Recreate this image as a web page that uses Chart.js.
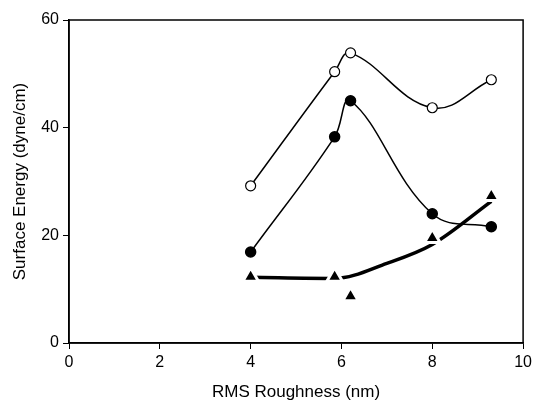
<!DOCTYPE html>
<html>
<head>
<meta charset="utf-8">
<script src="https://cdn.jsdelivr.net/npm/chart.js@4"></script>
<style>
  html, body { margin: 0; padding: 0; background: #fff; }
  #wrap { width: 536px; height: 403px; }
</style>
</head>
<body>
<div id="wrap"><canvas id="chart"></canvas></div>
<script>
// roughness values (nm)
const roughness = [4, 5.85, 6.2, 8, 9.3];
// surface energy series (dyne/cm)
const openCircles = [29.2, 50.4, 53.9, 43.7, 48.9];
const filledCircles = [16.9, 38.3, 45.0, 24.0, 21.6];
const triangles = [12.3, 12.3, 8.7, 19.5, 27.3];
// fitted curve through the triangle series
const trendX = [4, 5.85, 7, 8, 9.3];
const trendY = [12.2, 12.0, 14.8, 18.3, 26.3];

const xTicks = [0, 2, 4, 6, 8, 10];
const yTicks = [0, 20, 40, 60];

const toPoints = (xs, ys) => xs.map((x, i) => ({ x: x, y: ys[i] }));

// draws the box around the plot area
const frame = {
  id: 'frame',
  afterDraw(chart) {
    const a = chart.chartArea;
    const ctx = chart.ctx;
    ctx.save();
    ctx.strokeStyle = '#000';
    ctx.lineWidth = 1.5;
    ctx.strokeRect(a.left, a.top, a.right - a.left, a.bottom - a.top);
    ctx.restore();
  }
};

const family = 'Liberation Sans, Arial, sans-serif';

new Chart(document.getElementById('chart'), {
  type: 'scatter',
  data: {
    datasets: [
      {
        label: 'open',
        data: toPoints(roughness, openCircles),
        showLine: true,
        tension: 0.4,
        borderColor: '#000',
        borderWidth: 1.5,
        pointStyle: 'circle',
        pointRadius: 5,
        pointBackgroundColor: '#fff',
        pointBorderColor: '#000',
        pointBorderWidth: 1.2
      },
      {
        label: 'filled',
        data: toPoints(roughness, filledCircles),
        showLine: true,
        tension: 0.4,
        borderColor: '#000',
        borderWidth: 1.5,
        pointStyle: 'circle',
        pointRadius: 5,
        pointBackgroundColor: '#000',
        pointBorderColor: '#000'
      },
      {
        // triangles drawn over the trend with a white rim, giving the small gaps
        label: 'triangles',
        order: 0,
        data: toPoints(roughness, triangles),
        showLine: false,
        pointStyle: 'triangle',
        pointRadius: 9,
        pointBackgroundColor: '#000',
        pointBorderColor: '#fff',
        pointBorderWidth: 3
      },
      {
        label: 'trend',
        order: 1,
        data: toPoints(trendX, trendY),
        showLine: true,
        cubicInterpolationMode: 'monotone',
        borderColor: '#000',
        borderWidth: 3.5,
        pointRadius: 0
      }
    ]
  },
  options: {
    responsive: true,
    maintainAspectRatio: false,
    animation: false,
    layout: { padding: { left: 0, top: 20, right: 11, bottom: 0 } },
    plugins: {
      legend: { display: false },
      tooltip: { enabled: false }
    },
    scales: {
      x: {
        type: 'linear',
        min: 0,
        max: 10,
        afterBuildTicks(scale) { scale.ticks = xTicks.map(v => ({ value: v })); },
        afterFit(scale) { scale.height = 60; },
        grid: { drawOnChartArea: false, color: '#000', tickLength: 6 },
        border: { color: '#000', width: 1.5 },
        ticks: { color: '#000', font: { family: family, size: 16 }, padding: 4, maxRotation: 0 },
        title: {
          display: true,
          text: 'RMS Roughness (nm)',
          color: '#000',
          font: { family: family, size: 17 },
          padding: { top: 4, bottom: 0 }
        }
      },
      y: {
        type: 'linear',
        min: 0,
        max: 60,
        afterBuildTicks(scale) { scale.ticks = yTicks.map(v => ({ value: v })); },
        afterFit(scale) { scale.width = 69; },
        grid: { drawOnChartArea: false, color: '#000', tickLength: 6 },
        border: { color: '#000', width: 1.5 },
        ticks: { color: '#000', font: { family: family, size: 16 }, padding: 4 },
        title: {
          display: true,
          text: 'Surface Energy (dyne/cm)',
          color: '#000',
          font: { family: family, size: 17 },
          padding: { top: 10, bottom: 4 }
        }
      }
    }
  },
  plugins: [frame]
});
</script>
</body>
</html>
